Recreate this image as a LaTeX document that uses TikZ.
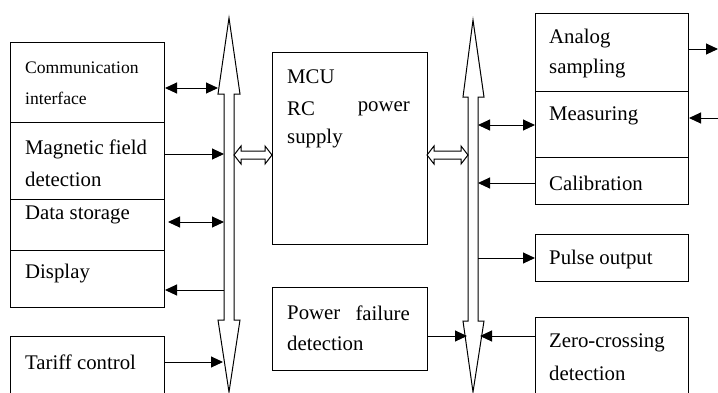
\documentclass[tikz,border=0pt]{standalone}
\usepackage{fontspec}
\setmainfont{Liberation Serif}
\usetikzlibrary{arrows.meta,calc}
\tikzset{
  blk/.style={draw, line width=1pt, fill=white},
  lbl/.style={anchor=west, inner sep=0pt, font=\fontsize{20.8}{24}\selectfont},
  slbl/.style={anchor=west, inner sep=0pt, font=\fontsize{17.6}{20}\selectfont},
  sig/.style={line width=1pt, -{Triangle[length=12pt,width=11pt]}},
  sigb/.style={line width=1pt, {Triangle[length=12pt,width=11pt]}-{Triangle[length=12pt,width=11pt]}},
  bus/.style={draw, line width=1pt, fill=white, line join=miter},
}
\begin{document}
\begin{tikzpicture}[x=1pt,y=-1pt]
\useasboundingbox (0,0) rectangle (718,392);

% ---- buses (hollow double arrows) ----
\draw[bus] (229,18) -- (240,94) -- (234,94) -- (234,320) -- (240,320) -- (229,392)
  -- (218,320) -- (224,320) -- (224,94) -- (218,94) -- cycle;
\draw[bus] (473,20) -- (484,97) -- (478,97) -- (478,321) -- (484,321) -- (473,392)
  -- (463,321) -- (468,321) -- (468,97) -- (463,97) -- cycle;

% ---- left boxes ----
\node[blk, minimum width=154pt, minimum height=80pt, anchor=north west] (comm) at (10,42) {};
\node[blk, minimum width=154pt, minimum height=77pt, anchor=north west] (mag) at (10,122) {};
\node[blk, minimum width=154pt, minimum height=51pt, anchor=north west] (data) at (10,199) {};
\node[blk, minimum width=154pt, minimum height=57pt, anchor=north west] (disp) at (10,250) {};
\node[blk, minimum width=154pt, minimum height=60pt, anchor=north west] (tariff) at (10,336) {};

\node[slbl] (t1) at (25,68) {Communication};
\node[slbl] (t2) at (25,98) {interface};
\node[lbl] (t3) at (25,149) {Magnetic field};
\node[lbl] (t4) at (25,179) {detection};
\node[lbl] (t5) at (25,215) {Data storage};
\node[lbl] (t6) at (25,274) {Display};
\node[lbl] (t7) at (25,362) {Tariff control};

% ---- centre boxes ----
\node[blk, minimum width=155pt, minimum height=192pt, anchor=north west] (mcu) at (272,52) {};
\node[lbl] (m1) at (287,77) {MCU};
\node[lbl] (m2) at (287,109) {RC};
\node[lbl, anchor=east] (m3) at (410,109) {power};
\node[lbl] (m4) at (287,139) {supply};

\node[blk, minimum width=155pt, minimum height=83pt, anchor=north west] (pfd) at (272,287) {};
\node[lbl] (p1) at (287,313) {Power};
\node[lbl, anchor=east] (p1b) at (410,313) {failure};
\node[lbl] (p2) at (287,343) {detection};

% ---- right boxes ----
\node[blk, minimum width=153pt, minimum height=78pt, anchor=north west] (ana) at (535,13) {};
\node[blk, minimum width=153pt, minimum height=66pt, anchor=north west] (meas) at (535,91) {};
\node[blk, minimum width=153pt, minimum height=47pt, anchor=north west] (cal) at (535,157) {};
\node[blk, minimum width=153pt, minimum height=47pt, anchor=north west] (pulse) at (535,234) {};
\node[blk, minimum width=153pt, minimum height=80pt, anchor=north west] (zero) at (535,317) {};

\node[lbl] (r1) at (549,39) {Analog};
\node[lbl] (r2) at (549,69) {sampling};
\node[lbl] (r3) at (549,116) {Measuring};
\node[lbl] (r4) at (549,183) {Calibration};
\node[lbl] (r5) at (549,259) {Pulse output};
\node[lbl] (r6) at (549,343) {Zero-crossing};
\node[lbl] (r7) at (549,373) {detection};

% ---- hollow bus links to MCU ----
\draw[bus] (234,155) -- (241,146) -- (241,151) -- (265,151) -- (265,146) -- (272,155)
  -- (265,164) -- (265,159) -- (241,159) -- (241,164) -- cycle;
\draw[bus] (427,155) -- (434,146) -- (434,151) -- (461,151) -- (461,146) -- (468,155)
  -- (461,164) -- (461,159) -- (434,159) -- (434,164) -- cycle;

% ---- left signals ----
\draw[sigb] (comm.east |- 0,88) -- (218,88);
\draw[sig] (mag.east |- 0,154) -- (224,154);
\draw[sigb] (168,222) -- (224,222);
\draw[sig] (224,290) -- (disp.east |- 0,290);
\draw[sig] (tariff.east |- 0,362) -- (223,362);

% ---- right signals ----
\draw[sigb] (478,125) -- (meas.west |- 0,125);
\draw[sig] (cal.west |- 0,183) -- (478,183);
\draw[sig] (478,258) -- (pulse.west |- 0,258);
\draw[sig] (zero.west |- 0,336) -- (480,336);
\draw[sig] (pfd.east |- 0,336) -- (467,336);
\coordinate (outA) at (718,49);
\coordinate (inM) at (718,118);
\draw[sig] (ana.east |- 0,49) -- (outA);
\draw[sig] (inM) -- (meas.east |- 0,118);
\end{tikzpicture}
\end{document}
